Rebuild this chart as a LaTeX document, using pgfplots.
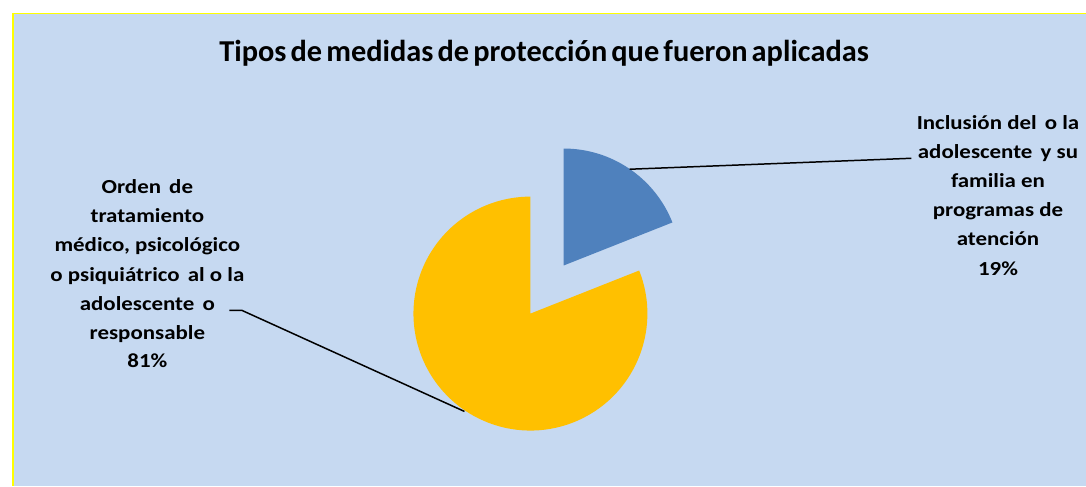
\documentclass[border=0pt]{standalone}
\usepackage{fontspec}
\setmainfont{Carlito}
\newfontfamily\titlefont[WordSpace=0.6]{Carlito}
\newfontfamily\labfont[FakeStretch=1.15]{Carlito}
\usepackage{pgfplots}
\usepackage{pgfplotstable}
\pgfplotsset{compat=1.18}
\definecolor{bg}{HTML}{C6D9F1}
\definecolor{pieblue}{HTML}{4F81BD}
\definecolor{pieyellow}{HTML}{FFC000}
\definecolor{frameyellow}{HTML}{FFFF00}

% slice value (%), and the position of each (exploded) slice vertex in picture units
\pgfplotstableread{
slice value cx cy
Inclusion 19 561.7 266.7
Orden 81 528.3 315.0
}\piedata

\tikzset{lab/.style={anchor=base, font=\labfont\bfseries\fontsize{20}{24}\selectfont}}
\newcommand{\xs}{\kern0.15em}

\begin{document}
\pgfplotstablegetelem{0}{value}\of\piedata \let\va\pgfplotsretval
\pgfplotstablegetelem{1}{value}\of\piedata \let\vb\pgfplotsretval
\pgfplotstablegetelem{0}{cx}\of\piedata \let\xa\pgfplotsretval
\pgfplotstablegetelem{0}{cy}\of\piedata \let\ya\pgfplotsretval
\pgfplotstablegetelem{1}{cx}\of\piedata \let\xb\pgfplotsretval
\pgfplotstablegetelem{1}{cy}\of\piedata \let\yb\pgfplotsretval
\pgfmathsetmacro{\aA}{90-3.6*\va}
\pgfmathsetmacro{\aB}{\aA-3.6*\vb}
\begin{tikzpicture}
\begin{axis}[
  scale only axis, width=1086pt, height=488pt,
  xmin=0, xmax=1086, ymin=0, ymax=488, y dir=reverse,
  axis lines=none, clip=false,
]
% background
\fill[white] (axis cs:0,0) rectangle (axis cs:1086,488);
\fill[bg] (axis cs:9,13.5) rectangle (axis cs:1086,488);
\draw[frameyellow, line width=0.8pt] (axis cs:9,13.5) -- (axis cs:1086,13.5);
\draw[frameyellow, line width=2pt] (axis cs:9,13.5) -- (axis cs:9,488);

% pie slices
\fill[pieblue] (axis cs:\xa,\ya) -- ++(90:117.5pt) arc[start angle=90, end angle=\aA, radius=117.5pt] -- cycle;
\fill[pieyellow] (axis cs:\xb,\yb) -- ++(\aA:117.5pt) arc[start angle=\aA, end angle=\aB, radius=117.5pt] -- cycle;

% leader lines
\addplot[black, line width=1.5pt, no marks] coordinates {(628,170) (911,159)};
\addplot[black, line width=1.5pt, no marks] coordinates {(226,311.7) (238.3,311.7) (462,413.3)};

% title
\node[anchor=base, font=\titlefont\bfseries\fontsize{30.5}{36}\selectfont] at (axis cs:542,62) {Tipos de medidas de protección que fueron aplicadas};

% right label
\node[lab] at (axis cs:998,130) {Inclusión del\xs{} o la};
\node[lab] at (axis cs:998,159.5) {adolescente\xs{} y su};
\node[lab] at (axis cs:998,188.5) {familia en};
\node[lab] at (axis cs:998,217.5) {programas de};
\node[lab] at (axis cs:998,247) {atención};
\node[lab] at (axis cs:998,277) {19\%};

% left label
\node[lab] at (axis cs:143.5,194) {Orden\xs{} de};
\node[lab] at (axis cs:143.5,223.5) {tratamiento};
\node[lab] at (axis cs:143.5,253) {médico, psicológico};
\node[lab] at (axis cs:143.5,282.5) {o psiquiátrico\xs{} al o la};
\node[lab] at (axis cs:143.5,312) {adolescente\xs{} o};
\node[lab] at (axis cs:143.5,341.5) {responsable};
\node[lab] at (axis cs:143.5,369.5) {81\%};
\end{axis}
\end{tikzpicture}
\end{document}
